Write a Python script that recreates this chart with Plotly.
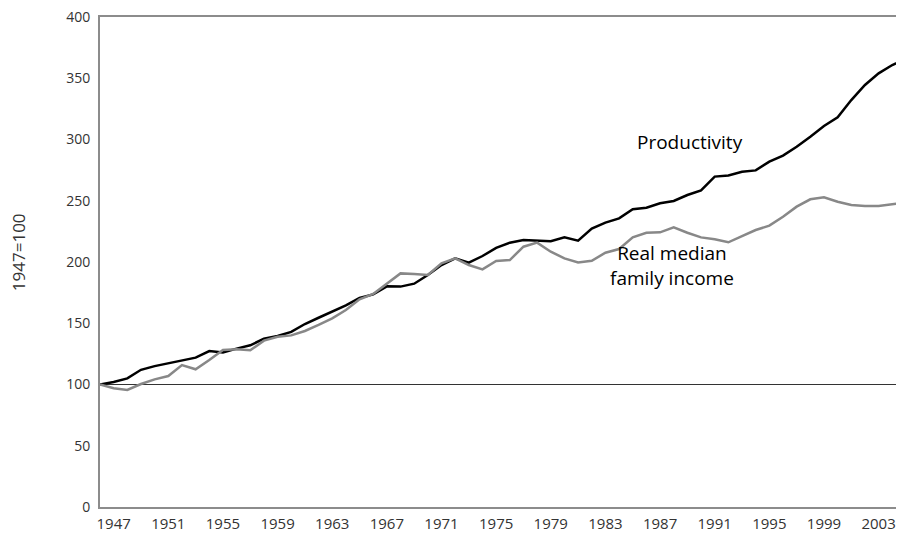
import plotly.graph_objects as go

years = list(range(1947, 2007))

productivity = [
    100, 102, 105, 112, 115, 117.5, 119.7, 121.9, 127.3, 126.2,
    129.3, 132, 137.4, 139.6, 142.9, 149.4, 154.5, 159.4, 164.6, 170.6,
    173.6, 180.1, 179.9, 182.3, 189.4, 197.5, 203, 199.4, 204.9, 211.5,
    215.8, 218, 217.4, 216.9, 220.1, 217.4, 227.2, 232.1, 235.6, 243,
    244.3, 247.9, 249.8, 254.7, 258.5, 269.7, 270.7, 273.7, 274.8, 281.9,
    286.8, 294.1, 302.3, 311, 318.1, 332.2, 344.5, 354, 360.8, 365.5,
]

median_income = [
    100, 97, 95.5, 100.4, 104.2, 106.9, 115.9, 112.4, 120, 128.2,
    128.7, 127.9, 135.8, 139, 140.1, 143.7, 148.6, 154, 160.8, 169.5,
    173.9, 182, 190.7, 190.2, 189.4, 198.9, 203, 197.5, 194, 200.8,
    201.6, 212.5, 215.8, 208.4, 203, 199.7, 201, 207.6, 210.6, 220.1,
    223.9, 224.2, 228.3, 223.9, 220.1, 218.5, 216.1, 221.2, 226.1, 229.7,
    237, 245.2, 251.2, 252.8, 249.2, 246.5, 245.7, 245.7, 247.1, 248.6,
]

tick_years = list(range(1947, 2004, 4))
y_ticks = list(range(0, 401, 50))

fig = go.Figure()
fig.add_trace(go.Scatter(
    x=years, y=productivity, mode="lines",
    line=dict(color="#000000", width=2.5), name="Productivity",
))
fig.add_trace(go.Scatter(
    x=years, y=median_income, mode="lines",
    line=dict(color="#888888", width=2.5), name="Real median family income",
))

# reference line at 100
fig.add_shape(type="line", xref="paper", yref="y", x0=0, x1=1, y0=100, y1=100,
              line=dict(color="#333333", width=1), layer="below")

label_font = dict(family="Open Sans", size=19, color="#000000")
fig.add_annotation(x=1990.2, y=298, text="Productivity", showarrow=False, font=label_font)
fig.add_annotation(x=1988.9, y=197.5, text="Real median<br>family income", showarrow=False,
                   align="center", font=label_font)
fig.add_annotation(xref="paper", yref="paper", x=-0.1020, y=0.52, text="1947=100",
                   textangle=-90, showarrow=False, xanchor="center", yanchor="middle",
                   font=dict(family="Open Sans", size=17, color="#333333"))

# the page body has an 8px margin, so the figure is 8px smaller to fit the window
fig.update_layout(
    width=896, height=531,
    margin=dict(l=92, r=0, t=9, b=32),
    paper_bgcolor="white", plot_bgcolor="white",
    showlegend=False,
    xaxis=dict(
        range=[1947, 1947 + 804 / 13.66],
        tickvals=[y + 1 for y in tick_years],
        ticktext=[str(y) for y in tick_years],
        showgrid=False, zeroline=False, automargin=False,
        showline=True, linecolor="#8c8c8c", linewidth=2, mirror=True,
        ticks="", ticklabelstandoff=2, ticklabeloverflow="allow",
        tickfont=dict(family="Open Sans", size=15, color="#333333"),
    ),
    yaxis=dict(
        range=[0, 400],
        tickvals=y_ticks,
        showgrid=False, zeroline=False, automargin=False,
        showline=True, linecolor="#8c8c8c", linewidth=2,
        ticks="", ticklabelstandoff=5, ticklabeloverflow="allow",
        tickfont=dict(family="Open Sans", size=14, color="#333333"),
    ),
)

fig.write_html("out.html")
